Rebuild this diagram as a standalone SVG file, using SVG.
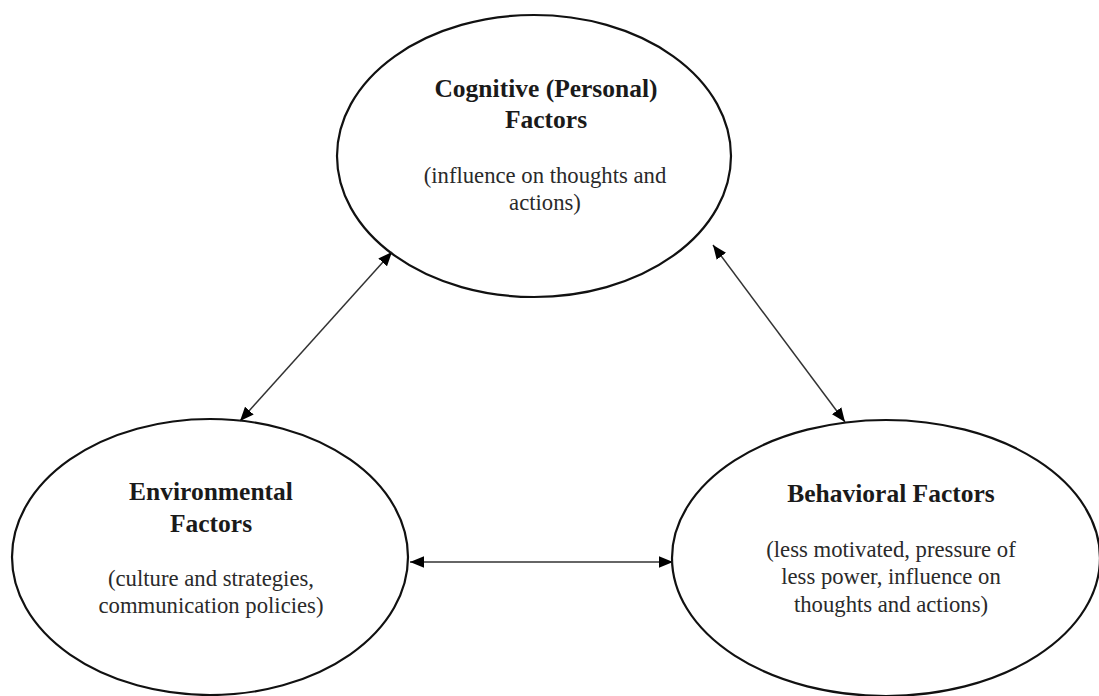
<svg xmlns="http://www.w3.org/2000/svg" width="1099" height="696" viewBox="0 0 1099 696">
<style>
.node ellipse{fill:#fff;stroke:#111;stroke-width:2.2}
.t{font-family:"Liberation Serif","Times New Roman",serif;font-weight:bold;font-size:25.5px;fill:#1a1a1a;text-anchor:middle}
.s{font-family:"Liberation Serif","Times New Roman",serif;font-size:22.7px;fill:#2a2a2a;text-anchor:middle}
.conn line{stroke:#333;stroke-width:1.5;marker-start:url(#ah);marker-end:url(#ah)}
</style>
<defs>
<marker id="ah" viewBox="0 0 12 10" refX="12" refY="5" markerWidth="14" markerHeight="12" markerUnits="userSpaceOnUse" orient="auto-start-reverse">
<path d="M0,0 L12,5 L0,10 Z" fill="#000"/>
</marker>
</defs>
<rect width="1099" height="696" fill="#fff"/>
<g id="cognitive" class="node">
<ellipse cx="534" cy="156" rx="197" ry="141"/>
<text class="t" x="546" y="97">Cognitive (Personal)</text>
<text class="t" x="546" y="128">Factors</text>
<text class="s" x="545" y="183">(influence on thoughts and</text>
<text class="s" x="545" y="210">actions)</text>
</g>
<g id="environmental" class="node">
<ellipse cx="210" cy="557" rx="198" ry="138"/>
<text class="t" x="211" y="500">Environmental</text>
<text class="t" x="211" y="532">Factors</text>
<text class="s" x="211" y="586">(culture and strategies,</text>
<text class="s" x="211" y="613">communication policies)</text>
</g>
<g id="behavioral" class="node">
<ellipse cx="886" cy="558" rx="214" ry="138"/>
<text class="t" x="891" y="502">Behavioral Factors</text>
<text class="s" x="891" y="557">(less motivated, pressure of</text>
<text class="s" x="891" y="584">less power, influence on</text>
<text class="s" x="891" y="612">thoughts and actions)</text>
</g>
<g id="connectors" class="conn">
<line x1="240" y1="421" x2="392" y2="252"/>
<line x1="713" y1="245" x2="845" y2="422"/>
<line x1="410" y1="562" x2="673" y2="562"/>
</g>
</svg>
